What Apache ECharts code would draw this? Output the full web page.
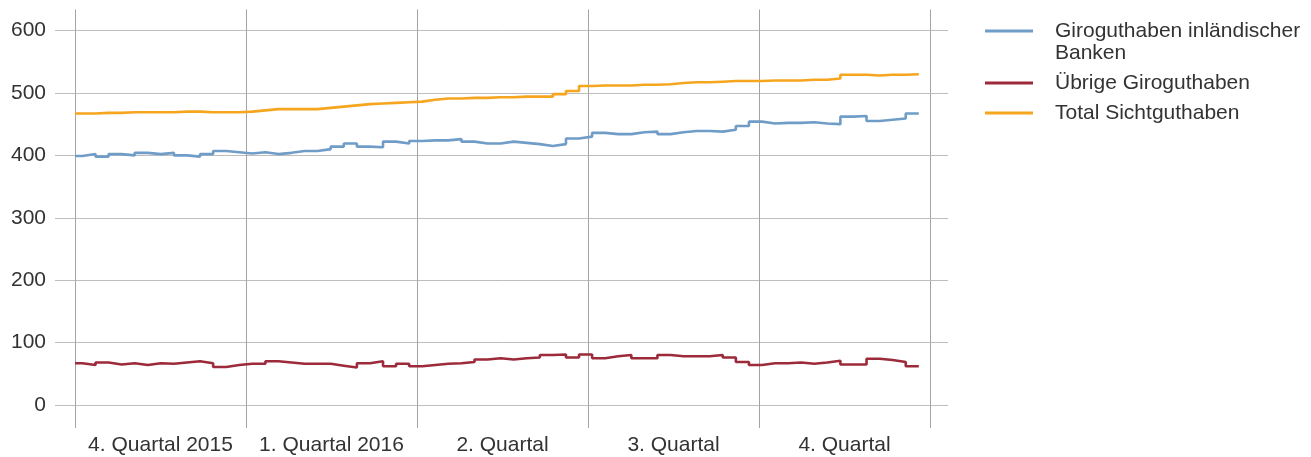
<!DOCTYPE html>
<html>
<head>
<meta charset="utf-8">
<script src="https://cdn.jsdelivr.net/npm/echarts@6/dist/echarts.min.js"></script>
<style>
html,body{margin:0;padding:0;background:#fff;}
#chart{width:1311px;height:457px;}
</style>
</head>
<body>
<div id="chart"></div>
<script>
// Quarter labels on the x axis
const quarterLabels = ['4. Quartal 2015', '1. Quartal 2016', '2. Quartal', '3. Quartal', '4. Quartal'];

// Weekly values (CHF bn); first value holds from 1 Oct 2015, then weekly from 5 Oct 2015
const giroInland = [399, 402, 398, 402, 400, 404, 402, 404, 400, 398, 402, 407, 405, 403, 405, 402,
  404, 407, 407, 410, 414, 419, 414, 413, 422, 419, 423, 424, 424, 426, 422, 419,
  419, 422, 420, 418, 415, 418, 427, 430, 436, 434, 434, 437, 438, 434, 437, 439,
  439, 438, 441, 447, 454, 451, 452, 452, 453, 451, 450, 462, 463, 455, 457, 459, 467];
const giroUebrige = [67, 64, 68, 65, 67, 64, 67, 66, 68, 70, 67, 61, 64, 66, 66, 70,
  68, 66, 66, 66, 63, 60, 67, 70, 62, 66, 62, 64, 66, 67, 69, 73,
  75, 73, 75, 76, 80, 81, 76, 81, 75, 78, 80, 75, 75, 80, 78, 78,
  78, 80, 76, 69, 64, 67, 67, 68, 66, 68, 71, 65, 65, 74, 72, 69, 62];
const totalSicht = [467, 467, 468, 468, 469, 469, 469, 469, 470, 470, 469, 469, 469, 470, 472, 474,
  474, 474, 474, 476, 478, 480, 482, 483, 484, 485, 486, 489, 491, 491, 492, 492,
  493, 493, 494, 494, 494, 498, 503, 511, 512, 512, 512, 513, 513, 514, 516, 517,
  517, 518, 519, 519, 519, 520, 520, 520, 521, 521, 523, 529, 529, 528, 529, 529, 530];

const seriesNames = ['Giroguthaben inländischer Banken', 'Übrige Giroguthaben', 'Total Sichtguthaben'];
const seriesColors = ['#6f9dc8', '#9c2a3a', '#f6a51f'];

const DAY = 864e5;
const axisStart = Date.UTC(2015, 9, 1);
const axisEnd = Date.UTC(2017, 0, 1);
const firstWeek = Date.UTC(2015, 9, 5);
function weekDate(i) { return i === 0 ? axisStart : firstWeek + (i - 1) * 7 * DAY; }
function toSteps(vals) {
  const pts = vals.map((v, i) => [weekDate(i), v]);
  pts.push([weekDate(vals.length), vals[vals.length - 1]]);
  return pts;
}

const FONT = 'Liberation Sans, Arial, sans-serif';
const FS = 21;
const TXT = '#333333';
const VGRID = '#a3a3a3';
const HGRID = '#bdbdbd';

const chart = echarts.init(document.getElementById('chart'), null, {renderer: 'canvas'});
const legendBase = {
  orient: 'vertical', left: 985, padding: 0, itemWidth: 48, itemHeight: 3,
  icon: 'rect', selectedMode: false,
};
const legendText = {fontFamily: FONT, fontSize: FS, color: TXT, lineHeight: 22, padding: [0, 0, 0, 17]};
chart.setOption({
  animation: false,
  backgroundColor: '#ffffff',
  grid: {left: 75, right: 381, top: 30.5, bottom: 52, containLabel: false},
  legend: [
    Object.assign({}, legendBase, {
      top: -2, data: [seriesNames[0]],
      formatter: n => '\n' + n.replace(' Banken', '\nBanken'),
      textStyle: legendText
    }),
    Object.assign({}, legendBase, {top: 72, data: [seriesNames[1]], textStyle: legendText}),
    Object.assign({}, legendBase, {top: 102, data: [seriesNames[2]], textStyle: legendText})
  ],
  xAxis: [
    {
      type: 'category', position: 'bottom', data: quarterLabels, boundaryGap: true,
      axisLine: {show: false},
      axisTick: {show: true, interval: 0, length: 23, lineStyle: {color: VGRID, width: 1}},
      axisLabel: {interval: 0, margin: 30, fontFamily: FONT, fontSize: FS, color: TXT},
      splitLine: {show: true, interval: 0, lineStyle: {color: VGRID, width: 1}}
    },
    {
      type: 'time', min: axisStart, max: axisEnd, show: false,
      splitLine: {show: false}
    },
    {
      type: 'category', position: 'top', data: quarterLabels, boundaryGap: true,
      axisLine: {show: false},
      axisTick: {show: true, interval: 0, length: 21, lineStyle: {color: VGRID, width: 1}},
      axisLabel: {show: false},
      splitLine: {show: false}
    }
  ],
  yAxis: [
    {
      type: 'value', min: 0, max: 600, interval: 100, position: 'left',
      axisLine: {show: false},
      axisTick: {show: true, length: 20, lineStyle: {color: HGRID, width: 1}},
      axisLabel: {margin: 29, fontFamily: FONT, fontSize: FS, color: TXT},
      splitLine: {show: true, lineStyle: {color: HGRID, width: 1}}
    },
    {
      type: 'value', min: 0, max: 600, interval: 100, position: 'right',
      axisLine: {show: false},
      axisTick: {show: true, length: 18, lineStyle: {color: HGRID, width: 1}},
      axisLabel: {show: false},
      splitLine: {show: false}
    }
  ],
  series: [giroInland, giroUebrige, totalSicht].map((vals, k) => ({
    name: seriesNames[k],
    type: 'line',
    step: 'end',
    xAxisIndex: 1,
    yAxisIndex: 0,
    showSymbol: false,
    symbol: 'none',
    color: seriesColors[k],
    lineStyle: {color: seriesColors[k], width: 2.6},
    data: toSteps(vals)
  }))
});
</script>
</body>
</html>
